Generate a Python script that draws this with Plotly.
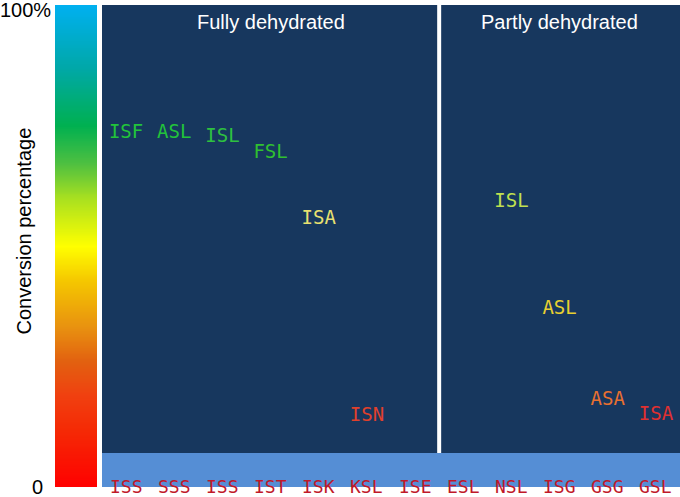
import plotly.graph_objects as go

# ---- data ----
categories = ["ISS", "SSS", "ISS", "IST", "ISK", "KSL", "ISE", "ESL", "NSL", "ISG", "GSG", "GSL"]
point_labels = ["ISF", "ASL", "ISL", "FSL", "ISA", "ISN", None, None, "ISL", "ASL", "ASA", "ISA"]
conversion = [73.4, 73.4, 72.5, 69.2, 55.6, 14.7, None, None, 59.0, 36.9, 17.9, 14.8]
group_titles = ["Fully dehydrated", "Partly dehydrated"]
group_ranges = [(0, 6), (7, 11)]
baseline_band = 7.05  # light-blue band height (%)
scale_levels = [i * 0.5 for i in range(201)]  # 0 .. 100 % for the colour bar

# ---- styles ----
label_colors = ["#22c33a", "#22c33a", "#2ec040", "#30c030", "#e8e070", "#e0402c",
                None, None, "#c0e050", "#e8d030", "#e87030", "#e03030"]
colorscale = [
    [0.00, "#ff0000"], [0.12, "#f52a05"], [0.19, "#f04010"], [0.26, "#e26010"],
    [0.33, "#e89010"], [0.43, "#f5c800"], [0.50, "#ffff00"], [0.60, "#a8e020"],
    [0.67, "#50c040"], [0.75, "#00b050"], [0.87, "#00a8a8"], [1.00, "#00b0f0"],
]
NAVY = "#17375e"
BAND = "#558ed5"
TICK_RED = "#c0182a"
MONO = "DejaVu Sans Mono"
SANS = "Liberation Sans, Arial"
PW = 625  # plot-area width in px

idx = [i for i, v in enumerate(conversion) if v is not None]
xs = idx
ys = [conversion[i] for i in idx]
txt = [point_labels[i] for i in idx]
tcolors = [label_colors[i] for i in idx]

fig = go.Figure()

fig.add_trace(go.Heatmap(
    x=[0], y=scale_levels, z=[[v] for v in scale_levels],
    colorscale=colorscale, zmin=0, zmax=100, showscale=False,
    zsmooth="best", xaxis="x2", yaxis="y", hoverinfo="skip",
))

fig.add_trace(go.Scatter(
    x=xs, y=ys, text=txt, mode="text",
    textposition="middle center",
    textfont=dict(family=MONO, size=19, color=tcolors),
    hoverinfo="skip", showlegend=False, cliponaxis=False,
))

shapes = []
shapes.append(dict(type="rect", xref="x", yref="y", x0=-0.5, x1=len(categories) - 0.5,
                   y0=0, y1=baseline_band, fillcolor=BAND, line=dict(width=0), layer="below"))
for (a, b) in group_ranges:
    shapes.append(dict(type="rect", xref="x", yref="y", x0=a - 0.5, x1=b + 0.5,
                       y0=baseline_band, y1=100, fillcolor=NAVY, line=dict(width=0), layer="below"))
shapes.append(dict(type="line", xref="x", yref="y", x0=group_ranges[1][0] - 0.5,
                   x1=group_ranges[1][0] - 0.5, y0=baseline_band, y1=100,
                   line=dict(color="white", width=4), layer="below"))

annotations = []
for i, c in enumerate(categories):
    annotations.append(dict(x=i, y=0, xref="x", yref="y", text=c, showarrow=False,
                            xanchor="center", yanchor="middle", yshift=1,
                            font=dict(family=MONO, size=18, color=TICK_RED)))
for t, (a, b) in zip(group_titles, group_ranges):
    annotations.append(dict(x=(a + b) / 2, y=100, xref="x", yref="y", text=t, showarrow=False,
                            xanchor="center", yanchor="middle", yshift=-17,
                            font=dict(family=SANS, size=20, color="white")))
annotations.append(dict(x=-30 / PW, y=100, xref="paper", yref="y", text="100%", showarrow=False,
                        xanchor="center", yanchor="middle", yshift=-5,
                        font=dict(family=SANS, size=20, color="black")))
annotations.append(dict(x=-18 / PW, y=0, xref="paper", yref="y", text="0", showarrow=False,
                        xanchor="center", yanchor="middle",
                        font=dict(family=SANS, size=20, color="black")))
annotations.append(dict(x=-31 / PW, y=53, xref="paper", yref="y", text="Conversion percentage",
                        showarrow=False, textangle=-90, xanchor="center", yanchor="middle",
                        font=dict(family=SANS, size=20, color="black")))

fig.update_layout(
    width=680, height=497,
    margin=dict(l=55, r=0, t=5, b=10, autoexpand=False),
    paper_bgcolor="white", plot_bgcolor="white",
    shapes=shapes, annotations=annotations,
    xaxis=dict(domain=[47 / PW, 1], range=[-0.5, len(categories) - 0.5], visible=False,
               fixedrange=True),
    xaxis2=dict(domain=[0, 42 / PW], range=[-0.5, 0.5], visible=False, fixedrange=True),
    yaxis=dict(range=[0, 100], visible=False, fixedrange=True),
    showlegend=False,
)

fig.write_html("out.html", config={"displayModeBar": False},
               post_script="document.body.style.margin='0';document.body.style.overflow='hidden';")
